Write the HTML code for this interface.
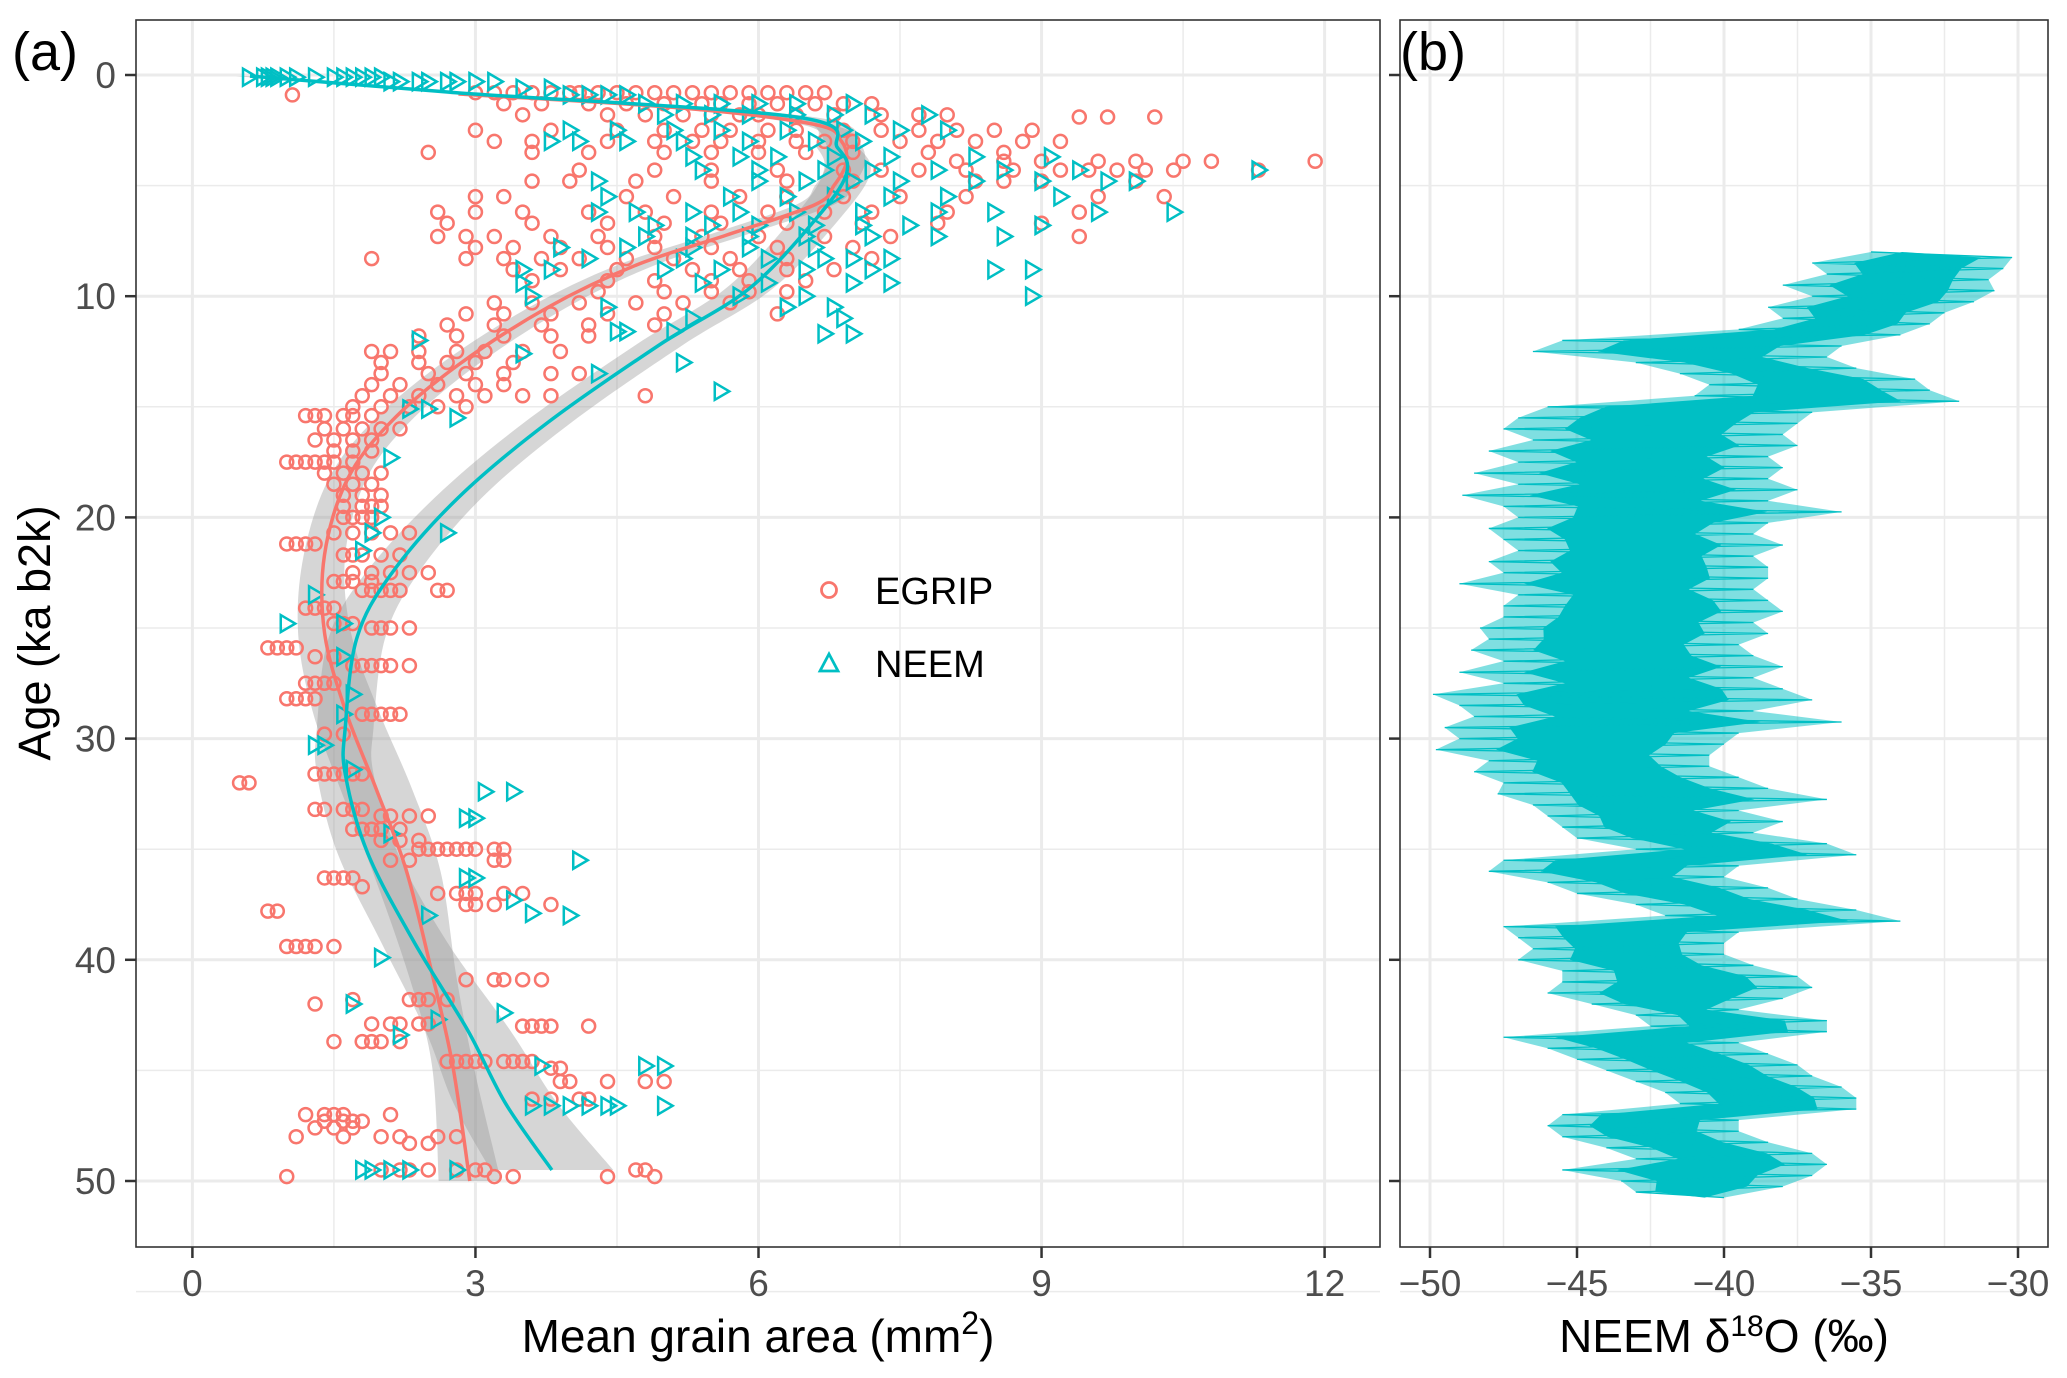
<!DOCTYPE html>
<html><head><meta charset="utf-8">
<style>
html,body{margin:0;padding:0;background:#fff;}
svg{display:block;font-family:"Liberation Sans",Arial,sans-serif;}
</style></head>
<body>
<svg id="chart" width="2067" height="1378" viewBox="0 0 2067 1378" xmlns="http://www.w3.org/2000/svg">
<rect width="2067" height="1378" fill="#fff"/>
<g id="pa-grid"></g>
<g id="pb-grid"></g>
<g id="pa-clip-g" clip-path="url(#clipA)"></g>
<g id="pb-clip-g" clip-path="url(#clipB)"></g>
<defs>
<clipPath id="clipA"><rect x="136" y="20" width="1244" height="1227"/></clipPath>
<clipPath id="clipB"><rect x="1400" y="20" width="648" height="1227"/></clipPath>
</defs>
<rect x="136" y="20" width="1244" height="1227" fill="none" stroke="#333" stroke-width="1.6"/>
<rect x="1400" y="20" width="648" height="1227" fill="none" stroke="#333" stroke-width="1.6"/>
<g id="axes"></g>
<text x="12" y="70" font-size="54">(a)</text>
<text x="1400" y="70" font-size="54">(b)</text>
<text transform="translate(50,633) rotate(-90)" text-anchor="middle" font-size="45">Age (ka b2k)</text>
<text x="758" y="1352" text-anchor="middle" font-size="46">Mean grain area (mm<tspan dy="-18" font-size="32">2</tspan><tspan dy="18">)</tspan></text>
<text x="1724" y="1352" text-anchor="middle" font-size="46">NEEM δ<tspan dy="-16" font-size="30">18</tspan><tspan dy="16">O (‰)</tspan></text>
<g>
  <circle cx="829" cy="590" r="7.5" fill="none" stroke="#F8766D" stroke-width="2.8"/>
  <text x="875" y="604" font-size="38">EGRIP</text>
  <polygon points="829,654 838,671 820,671" fill="none" stroke="#00BFC4" stroke-width="2.8"/>
  <text x="875" y="677" font-size="38">NEEM</text>
</g>
</svg>
<script>
// ---------- data ----------
const yTicks = [0,10,20,30,40,50];
const xTicksA = [0,3,6,9,12];
const xTicksB = [-50,-45,-40,-35,-30];

const egripRowAge = [0.8,0.9,1.3,1.8,1.9,2.5,3.0,3.5,3.9,4.3,4.8,5.5,6.2,6.7,7.3,7.8,8.3,8.8,9.3,9.8,10.3,10.8,11.3,11.8,12.5,13.0,13.5,14.0,14.5,15.0,15.4,16.0,16.5,17.0,17.5,18.0,18.5,19.0,19.5,20.0,20.7,21.2,21.7,22.5,22.9,23.3,24.1,24.8,25.0,25.9,26.3,26.7,27.5,28.2,28.9,29.8,31.6,32.0,33.2,33.5,34.1,34.6,35.0,35.5,36.3,36.7,37.0,37.5,37.8,39.4,40.9,41.8,42.0,42.9,43.0,43.7,44.6,44.9,45.5,46.3,47.0,47.3,47.6,48.0,48.3,49.5,49.8];
const egripRowVals = [
[3.0,3.2,3.4,3.6,3.8,4.0,4.1,4.3,4.5,4.7,4.9,5.1,5.3,5.5,5.7,5.9,6.1,6.3,6.5,6.7],
[1.06],
[3.3,3.7,4.2,4.6,5.0,5.4,5.6,5.9,6.2,6.6,6.9,7.2],
[3.5,4.4,4.8,5.2,5.5,5.8,6.0,6.4,6.8,7.3,7.7,8.0],
[9.4,9.7,10.2],
[3.0,3.8,4.5,5.0,5.4,5.7,6.1,6.4,6.9,7.3,7.7,8.1,8.5,8.9],
[3.2,3.6,4.4,4.9,5.3,5.6,6.0,6.4,6.7,7.0,7.5,7.9,8.3,8.8,9.2],
[2.5,3.6,4.2,5.0,5.5,6.0,6.5,7.0,7.8,8.6],
[8.1,8.6,9.0,9.6,10.0,10.5,10.8,11.9],
[4.1,4.9,5.5,6.2,6.9,7.3,7.7,8.2,8.7,9.2,9.5,9.8,10.1,10.4,11.3],
[3.6,4.0,4.7,5.5,6.3,7.0,8.3,8.6,9.0,10.0],
[3.0,3.3,4.6,5.1,5.8,6.3,6.9,7.5,8.2,9.6,10.3],
[2.6,3.0,3.5,4.2,4.8,5.5,6.1,6.7,7.2,8.0,9.4],
[2.7,3.6,4.4,5.0,5.6,6.3,7.1,7.9,9.0],
[2.6,2.9,3.2,3.8,4.3,4.9,5.4,6.0,6.7,7.4,9.4],
[3.0,3.4,3.9,4.4,4.9,5.5,6.2,7.0],
[1.9,2.9,3.3,3.7,4.1,4.6,5.1,5.7,6.3,7.2],
[3.4,3.9,4.5,5.3,5.8,6.3,6.8],
[3.6,4.4,4.9,5.5,5.9,6.5],
[4.3,5.0,5.5,5.9,6.3],
[3.2,3.6,4.1,4.7,5.2,5.7],
[2.9,3.3,3.8,4.4,5.0,6.2],
[2.7,3.2,3.7,4.2,4.9],
[2.4,2.8,3.3,3.8,4.2],
[1.9,2.1,2.4,2.8,3.1,3.5,3.9],
[2.0,2.4,2.7,3.0,3.4],
[2.0,2.5,2.9,3.3,3.8,4.1],
[1.9,2.2,2.6,3.0,3.3],
[1.8,2.1,2.4,2.8,3.1,3.5,3.8,4.8],
[1.7,2.0,2.3,2.6,2.9],
[1.2,1.3,1.4,1.6,1.7,1.9],
[1.4,1.6,1.8,2.0,2.2],
[1.3,1.5,1.7,1.9],
[1.5,1.7,1.9],
[1.0,1.1,1.2,1.3,1.4,1.5,1.7],
[1.4,1.6,1.8,2.0],
[1.5,1.7,1.9],
[1.6,1.8,2.0],
[1.6,1.8,1.9,2.0],
[1.6,1.7,1.8,1.9],
[1.5,1.7,1.9,2.1,2.3],
[1.0,1.1,1.2,1.3],
[1.6,1.7,1.8,2.0,2.2],
[1.7,1.9,2.1,2.3,2.5],
[1.5,1.6,1.7,1.9],
[1.8,1.9,2.0,2.1,2.2,2.6,2.7],
[1.2,1.3,1.4,1.5],
[1.5,1.6,1.7],
[1.9,2.0,2.1,2.3],
[0.8,0.9,1.0,1.1],
[1.3,1.5],
[1.7,1.8,1.9,2.0,2.1,2.3],
[1.2,1.3,1.4,1.5],
[1.0,1.1,1.2,1.3],
[1.8,1.9,2.0,2.1,2.2],
[1.4,1.6],
[1.3,1.4,1.5,1.6,1.7,1.8],
[0.5,0.6],
[1.3,1.4,1.6,1.7,1.8],
[2.0,2.1,2.3,2.5],
[1.7,1.8,1.9,2.0,2.2],
[2.0,2.2,2.4],
[2.4,2.5,2.6,2.7,2.8,2.9,3.0,3.2,3.3],
[2.1,2.3,3.2,3.3],
[1.4,1.5,1.6,1.7],
[1.8],
[2.6,2.8,2.9,3.0,3.3,3.5],
[2.9,3.0,3.2,3.8],
[0.8,0.9],
[1.0,1.1,1.2,1.3,1.5],
[2.9,3.2,3.3,3.5,3.7],
[1.7,2.3,2.4,2.5,2.7],
[1.3],
[1.9,2.1,2.2,2.4,2.5],
[3.5,3.6,3.7,3.8,4.2],
[1.5,1.8,1.9,2.0,2.2],
[2.7,2.8,2.9,3.0,3.1,3.3,3.4,3.5,3.6],
[3.8,3.9],
[3.9,4.0,4.4,4.8,5.0],
[3.6,3.8,4.1,4.2],
[1.2,1.4,1.5,1.6,2.1],
[1.4,1.6,1.7,1.8],
[1.3,1.5,1.7],
[1.1,1.6,2.0,2.2,2.6,2.8],
[2.3,2.5],
[2.0,2.2,2.3,2.5,2.8,3.0,3.1,4.7,4.8],
[1.0,3.2,3.4,4.4,4.9]
];

const neemRowAge = [0.1,0.3,0.6,0.9,1.3,1.8,2.5,3.0,3.7,4.3,4.8,5.5,6.2,6.8,7.3,7.8,8.3,8.8,9.4,10.0,10.5,11.0,11.6,11.7,12.0,12.6,13.0,13.5,14.3,15.1,15.5,17.3,20.0,20.7,21.5,23.5,24.8,26.3,28.0,28.9,30.3,31.4,32.4,33.6,34.3,35.5,36.3,37.3,37.9,38.0,39.9,42.0,42.4,42.7,43.4,44.8,46.6,49.5];
const neemRowVals = [
[0.6,0.75,0.8,0.85,0.9,1.0,1.1,1.3,1.5,1.6,1.7,1.8,1.9,2.0],
[2.1,2.2,2.4,2.5,2.7,2.8,3.0,3.2],
[3.5,3.8],
[4.0,4.2,4.4,4.6],
[4.8,5.2,5.6,6.0,6.4,7.0],
[5.0,5.5,5.9,6.4,6.8,7.2,7.8],
[4.0,4.5,5.1,5.6,6.3,6.9,7.5,8.0],
[3.8,4.1,4.6,5.2,5.9,6.6,7.1],
[5.3,5.8,6.2,6.8,7.4,8.3,9.1],
[5.4,6.0,6.7,7.2,7.9,8.6,9.4,11.3],
[4.3,6.0,6.5,7.0,7.5,8.3,9.0,9.7,10.0],
[4.4,5.7,6.3,6.8,7.4,8.0,9.2],
[4.3,4.7,5.3,5.8,6.4,7.1,7.9,8.5,9.6,10.4],
[4.9,5.5,6.0,6.6,7.1,7.6,9.0],
[4.8,5.3,5.9,6.5,7.2,7.9,8.6],
[3.9,4.6,5.3,5.9,6.6],
[4.2,5.2,6.1,6.7,7.0,7.4],
[3.5,3.8,5.0,5.6,6.5,7.2,8.5,8.9],
[3.5,5.4,6.1,7.0,7.4],
[3.6,5.8,6.5,8.9],
[4.4,6.3,6.8],
[5.3,6.9],
[4.5,4.6,5.1],
[6.7,7.0],
[2.4],[3.5],[5.2],[4.3],[5.6],
[2.3,2.5],[2.8],[2.1],[2.0],[1.9,2.7],[1.8],[1.3],[1.0,1.6],[1.6],[1.7],[1.6],
[1.3,1.4],[1.7],[3.1,3.4],[2.9,3.0],[2.1],[4.1],[2.9,3.0],[3.4],[3.6],[4.0,2.5],
[2.0],[1.7],[3.3],[2.6],[2.2],[3.7,4.8,5.0],[3.6,3.8,4.0,4.2,4.4,4.5,5.0],[1.8,1.9,2.1,2.3,2.8]
];

// loess fits
const egripFitAge = [0.86,1.5,2.24,3.0,3.97,5.0,5.86,7.24,8.6,10.5,13.1,15.7,18.3,21.7,25.2,28.7,32.3,36.0,40.8,44.8,50.0];
const egripFitX   = [2.82,5.2,6.6,6.88,6.93,6.8,6.6,5.66,4.7,3.77,2.82,2.1,1.64,1.4,1.4,1.62,1.95,2.27,2.55,2.76,2.94];
const egripFitSe  = [0.12,0.12,0.15,0.18,0.2,0.2,0.2,0.2,0.2,0.2,0.2,0.2,0.2,0.22,0.28,0.35,0.38,0.36,0.25,0.22,0.33];
const neemFitAge = [0.05,0.8,1.9,3.3,4.5,6.55,9.66,12.2,15.7,19.1,22.6,25.5,29.5,31.6,35.2,39.2,43.2,46.5,49.5];
const neemFitX   = [0.61,2.8,6.4,6.84,6.93,6.6,5.9,4.95,3.77,2.82,2.1,1.74,1.62,1.62,1.86,2.35,2.92,3.32,3.81];
const neemFitSe  = [0.15,0.15,0.18,0.22,0.25,0.25,0.25,0.25,0.25,0.25,0.28,0.3,0.3,0.3,0.32,0.35,0.45,0.55,0.65];

// NEEM d18O (lo/hi excursion per 0.5 ka step)
const d18Age = [8.0,8.5,9.0,9.5,10.0,10.5,11.0,11.5,12.0,12.5,13.0,13.5,14.0,14.5,15.0,15.5,16.0,16.5,17.0,17.5,18.0,18.5,19.0,19.5,20.0,20.5,21.0,21.5,22.0,22.5,23.0,23.5,24.0,24.5,25.0,25.5,26.0,26.5,27.0,27.5,28.0,28.5,29.0,29.5,30.0,30.5,31.0,31.5,32.0,32.5,33.0,33.5,34.0,34.5,35.0,35.5,36.0,36.5,37.0,37.5,38.0,38.5,39.0,39.5,40.0,40.5,41.0,41.5,42.0,42.5,43.0,43.5,44.0,44.5,45.0,45.5,46.0,46.5,47.0,47.5,48.0,48.5,49.0,49.5,50.0,50.5];
const d18Lo = [-35,-37,-36.5,-38,-37,-38.5,-38,-39.5,-45.5,-46.5,-43,-41.5,-40.5,-41,-46,-47,-47.5,-46.5,-48,-47,-48.5,-47,-48.9,-47.5,-47,-48,-47.5,-47,-48,-47.5,-49,-47,-47.5,-47.5,-48.3,-48,-48.6,-47.5,-49,-47.5,-49.9,-49,-48.5,-49.5,-49,-49.8,-48,-48.5,-47.5,-47.7,-46.5,-46,-45.5,-45,-43,-47.5,-48,-46,-45,-43,-42,-47.5,-47,-46.5,-47,-45.5,-45.5,-46,-44.5,-43,-42.5,-47.5,-46,-45,-44,-43,-42,-41.5,-45.5,-46,-45.5,-44,-43,-45.5,-43.5,-43];
const d18Hi = [-30.2,-30.5,-31,-30.8,-31.5,-32.5,-33,-34,-36,-36.5,-35.5,-33.5,-33,-32,-37,-37.5,-38,-37.5,-38.5,-38,-38.5,-37.5,-38.5,-36,-38.5,-39,-38,-39,-38.5,-38.5,-39,-38.5,-38,-39,-38.5,-39.5,-39,-38,-39,-38,-37,-39,-36,-39.5,-40,-40.5,-40.5,-39.5,-38.5,-36.5,-39.5,-38,-39,-36.5,-35.5,-39.5,-40,-38.5,-37.5,-35.5,-34,-39.5,-40,-40,-39,-37.5,-37,-38,-39.5,-36.5,-36.5,-39.5,-38.5,-37.5,-37,-36,-35.5,-35.5,-39.5,-39.5,-38.5,-37,-36.5,-37,-38,-40];

// ---------- scales ----------
const NS = 'http://www.w3.org/2000/svg';
const yS = a => 75 + a * 22.12;
const xA = v => 192.4 + v * 94.35;
const xB = v => 1430 + (v + 50) * 29.4;
function mk(tag, attrs, parent){ const e = document.createElementNS(NS, tag); for (const k in attrs) e.setAttribute(k, attrs[k]); parent.appendChild(e); return e; }
// Catmull-Rom smooth path through points
function smooth(pts, start){
  let d = start ? 'M' + pts[0][0] + ',' + pts[0][1] : ' L' + pts[0][0] + ',' + pts[0][1];
  for (let i = 0; i < pts.length - 1; i++) {
    const p0 = pts[Math.max(0,i-1)], p1 = pts[i], p2 = pts[i+1], p3 = pts[Math.min(pts.length-1,i+2)];
    const c1 = [p1[0] + (p2[0]-p0[0])/6, p1[1] + (p2[1]-p0[1])/6];
    const c2 = [p2[0] - (p3[0]-p1[0])/6, p2[1] - (p3[1]-p1[1])/6];
    d += ' C' + c1[0] + ',' + c1[1] + ' ' + c2[0] + ',' + c2[1] + ' ' + p2[0] + ',' + p2[1];
  }
  return d;
}

const gA = document.getElementById('pa-grid');
const gB = document.getElementById('pb-grid');
const pA = document.getElementById('pa-clip-g');
const pB = document.getElementById('pb-clip-g');
const ax = document.getElementById('axes');

// grids
for (let a = -5; a <= 55; a += 5) {
  const major = a % 10 === 0;
  for (const [g, x1, x2] of [[gA,136,1380],[gB,1400,2048]]) {
    const l = mk('line', {x1:x1, x2:x2, y1:yS(a), y2:yS(a), stroke:'#EBEBEB', 'stroke-width': major?3:1.5}, g);
    
    
  }
}
for (let v = -1.5; v <= 13.5; v += 1.5) {
  const X = xA(v); if (X < 136 || X > 1380) continue;
  const major = Math.abs(v % 3) < 1e-6;
  const l = mk('line', {x1:X, x2:X, y1:20, y2:1247, stroke:'#EBEBEB', 'stroke-width': major?3:1.5}, gA);
  
  
}
for (let v = -52.5; v <= -27.5; v += 2.5) {
  const X = xB(v); if (X < 1400 || X > 2048) continue;
  const major = Math.abs(v % 5) < 1e-6;
  const l = mk('line', {x1:X, x2:X, y1:20, y2:1247, stroke:'#EBEBEB', 'stroke-width': major?3:1.5}, gB);
  
  
}

// ribbons
function ribbon(ages, xs, se, name){
  const left = ages.map((a,i) => [xA(xs[i]-se[i]), yS(a)]);
  const right = ages.map((a,i) => [xA(xs[i]+se[i]), yS(a)]).reverse();
  const d = smooth(left, true) + smooth(right, false) + ' Z';
  const p = mk('path', {d: d, fill:'#999999', 'fill-opacity':0.4}, pA);
  
  
}
ribbon(egripFitAge, egripFitX, egripFitSe, 'egrip-fit-ribbon');
ribbon(neemFitAge, neemFitX, neemFitSe, 'neem-fit-ribbon');

// points
egripRowAge.forEach((a, i) => {
  egripRowVals[i].forEach(v => {
    const c = mk('circle', {cx: xA(v), cy: yS(a), r: 6.5, fill:'none', stroke:'#F8766D', 'stroke-width':2.5}, pA);
    
    
  });
});
neemRowAge.forEach((a, i) => {
  neemRowVals[i].forEach(v => {
    const X = xA(v), Y = yS(a);
    const t = mk('polygon', {points: `${X-6},${Y-8.5} ${X+8.5},${Y} ${X-6},${Y+8.5}`, fill:'none', stroke:'#00BFC4', 'stroke-width':2.5}, pA);
    
    
  });
});

// fit lines
function fitLine(ages, xs, color, name){
  const pts = ages.map((a,i) => [xA(xs[i]), yS(a)]);
  const p = mk('path', {d: smooth(pts, true), fill:'none', stroke: color, 'stroke-width': 3.5, 'stroke-linejoin':'round'}, pA);
  
  
}
fitLine(egripFitAge, egripFitX, '#F8766D', 'egrip-fit-line');
fitLine(neemFitAge, neemFitX, '#00BFC4', 'neem-fit-line');

// d18O
(function(){
  let env = [];
  for (let i = 0; i < d18Age.length; i++) env.push(xB(d18Lo[i]) + ',' + yS(d18Age[i]));
  for (let i = d18Age.length-1; i >= 0; i--) env.push(xB(d18Hi[i]) + ',' + yS(d18Age[i]+0.25));
  const e = mk('polygon', {points: env.join(' '), fill:'#00BFC4', 'fill-opacity':0.5}, pB);
  
  
  let core = [];
  for (let i = 0; i < d18Age.length; i++) core.push(xB(d18Lo[i] + 0.22*(d18Hi[i]-d18Lo[i])) + ',' + yS(d18Age[i]));
  for (let i = d18Age.length-1; i >= 0; i--) core.push(xB(d18Hi[i] - 0.22*(d18Hi[i]-d18Lo[i])) + ',' + yS(d18Age[i]+0.25));
  const c = mk('polygon', {points: core.join(' '), fill:'#00BFC4'}, pB);
  
  
  let d = '';
  for (let i = 0; i < d18Age.length; i++) {
    d += (i ? ' L' : 'M') + xB(d18Lo[i]) + ',' + yS(d18Age[i]);
    d += ' L' + xB(d18Hi[i]) + ',' + yS(d18Age[i]+0.25);
  }
  const p = mk('path', {d: d, fill:'none', stroke:'#00BFC4', 'stroke-width':1.3}, pB);
  
  
})();

// axes ticks & labels
yTicks.forEach(t => {
  const Y = yS(t);
  const l1 = mk('line', {x1:125, x2:136, y1:Y, y2:Y, stroke:'#333', 'stroke-width':2.5}, ax);
  
  
  const l2 = mk('line', {x1:1389, x2:1400, y1:Y, y2:Y, stroke:'#333', 'stroke-width':2.5}, ax);
  
  
  const tx = mk('text', {x:116, y:Y+13, 'text-anchor':'end', 'font-size':37, fill:'#4D4D4D'}, ax);
  tx.textContent = t;
  
  
});
xTicksA.forEach(t => {
  const X = xA(t);
  const l = mk('line', {x1:X, x2:X, y1:1247, y2:1258, stroke:'#333', 'stroke-width':2.5}, ax);
  
  
  const tx = mk('text', {x:X, y:1296, 'text-anchor':'middle', 'font-size':37, fill:'#4D4D4D'}, ax);
  tx.textContent = t;
  
  
});
xTicksB.forEach(t => {
  const X = xB(t);
  const l = mk('line', {x1:X, x2:X, y1:1247, y2:1258, stroke:'#333', 'stroke-width':2.5}, ax);
  
  
  const tx = mk('text', {x:X, y:1296, 'text-anchor':'middle', 'font-size':37, fill:'#4D4D4D'}, ax);
  tx.textContent = String(t).replace('-', '\u2212');
  
  
});
</script>
</body></html>
